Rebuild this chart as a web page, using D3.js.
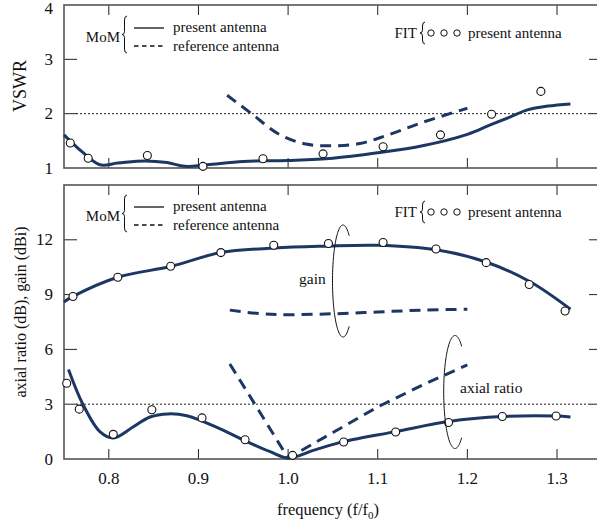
<!DOCTYPE html>
<html>
<head>
<meta charset="utf-8">
<script src="https://cdn.jsdelivr.net/npm/d3@7"></script>
<style>
    body { margin: 0; background: #fff; }
</style>
</head>
<body>
<svg id="chart" width="597" height="525"></svg>
<script>
// ---- data ----
var freqTicks = [0.8, 0.9, 1.0, 1.1, 1.2, 1.3];
var vswrTicks = [1, 2, 3, 4];
var dbTicks = [0, 3, 6, 9, 12];

// VSWR, MoM present antenna
var vswrMomF = [0.75, 0.77, 0.79, 0.81, 0.84, 0.865, 0.885, 0.91, 0.95, 1.0, 1.05, 1.1, 1.15, 1.2, 1.225, 1.248, 1.267, 1.29, 1.315];
var vswrMomV = [1.61, 1.3, 1.06, 1.09, 1.13, 1.1, 1.03, 1.06, 1.12, 1.14, 1.18, 1.28, 1.41, 1.62, 1.79, 1.94, 2.07, 2.14, 2.18];
// VSWR, MoM reference antenna
var vswrRefF = [0.932, 0.96, 0.99, 1.02, 1.05, 1.08, 1.11, 1.15, 1.2];
var vswrRefV = [2.34, 1.99, 1.62, 1.44, 1.41, 1.45, 1.6, 1.84, 2.1];
// VSWR, FIT present antenna
var vswrFitF = [0.757, 0.777, 0.843, 0.905, 0.972, 1.039, 1.106, 1.17, 1.227, 1.282];
var vswrFitV = [1.46, 1.18, 1.23, 1.03, 1.17, 1.26, 1.39, 1.61, 1.99, 2.41];

// gain, MoM present antenna
var gainMomF = [0.75, 0.76, 0.81, 0.87, 0.925, 0.985, 1.04, 1.1, 1.165, 1.22, 1.27, 1.315];
var gainMomV = [8.6, 8.9, 9.95, 10.55, 11.3, 11.55, 11.65, 11.7, 11.45, 10.8, 9.7, 8.2];
// gain, MoM reference antenna
var gainRefF = [0.935, 0.97, 1.0, 1.05, 1.1, 1.15, 1.2];
var gainRefV = [8.15, 7.95, 7.9, 7.95, 8.05, 8.15, 8.2];
// gain, FIT present antenna
var gainFitF = [0.76, 0.81, 0.869, 0.925, 0.984, 1.045, 1.106, 1.165, 1.221, 1.269, 1.309];
var gainFitV = [8.9, 9.95, 10.55, 11.3, 11.7, 11.8, 11.85, 11.5, 10.75, 9.55, 8.1];

// axial ratio, MoM present antenna
var arMomF = [0.755, 0.771, 0.79, 0.805, 0.827, 0.846, 0.866, 0.887, 0.92, 0.954, 0.98, 1.0, 1.03, 1.062, 1.12, 1.179, 1.239, 1.298, 1.315];
var arMomV = [4.9, 3.0, 1.5, 1.15, 1.75, 2.3, 2.47, 2.37, 1.75, 0.95, 0.4, 0.05, 0.5, 0.95, 1.5, 2.05, 2.32, 2.35, 2.3];
// axial ratio, MoM reference antenna
var arRefF = [0.935, 0.968, 1.0, 1.05, 1.1, 1.15, 1.2];
var arRefV = [5.2, 2.6, 0.05, 1.45, 2.85, 4.05, 5.15];
// axial ratio, FIT present antenna
var arFitF = [0.753, 0.767, 0.805, 0.848, 0.904, 0.952, 1.005, 1.062, 1.12, 1.179, 1.239, 1.299];
var arFitV = [4.15, 2.73, 1.35, 2.7, 2.25, 1.05, 0.2, 0.93, 1.48, 2.0, 2.33, 2.35];

// ---- layout ----
var svg = d3.select("#chart");
var navy = "#1c3763";
var ink = "#111";
var serif = "'Liberation Serif', serif";
var left = 64, right = 596;

var x = d3.scaleLinear().domain([0.75, 1.3435]).range([left, right]);
var yTop = d3.scaleLinear().domain([1, 4]).range([168, 5]);
var yBot = d3.scaleLinear().domain([0, 15]).range([459, 185]);

function zip(fs, vs){ return fs.map(function(f, i){ return [f, vs[i]] }) }

// every label goes through here so the serif face sticks
function label(sel, size){
    return sel.style("font-family", serif).attr("font-size", size).attr("fill", ink);
}

function panel(y, ticks){
    var g = svg.append("g");
    var y0 = y.range()[0], y1 = y.range()[1];

    // inner ticks, x at bottom and top
    g.selectAll(".xb").data(freqTicks).enter().append("line")
        .attr("x1", function(d){ return x(d) }).attr("x2", function(d){ return x(d) })
        .attr("y1", y0).attr("y2", y0 - 10)
        .attr("stroke", "#222").attr("stroke-width", 1);
    g.selectAll(".xt").data(freqTicks).enter().append("line")
        .attr("x1", function(d){ return x(d) }).attr("x2", function(d){ return x(d) })
        .attr("y1", y1).attr("y2", y1 + 10)
        .attr("stroke", "#222").attr("stroke-width", 1);

    // y ticks left and right, plus labels
    var inner = ticks.filter(function(d){ return y(d) > y1 + 1 && y(d) < y0 - 1 });
    g.selectAll(".yl").data(inner).enter().append("line")
        .attr("x1", left).attr("x2", left + 13)
        .attr("y1", function(d){ return y(d) }).attr("y2", function(d){ return y(d) })
        .attr("stroke", "#222").attr("stroke-width", 1);
    g.selectAll(".yr").data(inner).enter().append("line")
        .attr("x1", 589).attr("x2", 597)
        .attr("y1", function(d){ return y(d) }).attr("y2", function(d){ return y(d) })
        .attr("stroke", "#222").attr("stroke-width", 1);
    label(g.selectAll(".ylab").data(ticks).enter().append("text"), 17)
        .attr("x", 53).attr("y", function(d){ return Math.max(y(d) + 5.5, 13.5) })
        .attr("text-anchor", "end")
        .text(function(d){ return d });

    // frame
    g.append("rect")
        .attr("x", left).attr("y", y1)
        .attr("width", 560).attr("height", y0 - y1)
        .attr("fill", "none").attr("stroke", "#555").attr("stroke-width", 1.6);
    return g;
}

panel(yTop, vswrTicks);
panel(yBot, dbTicks);

// dotted limits
svg.append("line").attr("x1", 76).attr("x2", 589)
    .attr("y1", yTop(2)).attr("y2", yTop(2))
    .attr("stroke", "#222").attr("stroke-width", 1).attr("stroke-dasharray", "2,2");
svg.append("line").attr("x1", 76).attr("x2", 589)
    .attr("y1", yBot(3)).attr("y2", yBot(3))
    .attr("stroke", "#222").attr("stroke-width", 1).attr("stroke-dasharray", "2,2");

// curves
function curve(y, fs, vs, dashed, shape){
    var line = d3.line()
        .x(function(d){ return x(d[0]) })
        .y(function(d){ return y(d[1]) })
        .curve(shape || d3.curveCatmullRom.alpha(0.5));
    svg.append("path")
        .datum(zip(fs, vs))
        .attr("d", line)
        .attr("fill", "none")
        .attr("stroke", navy)
        .attr("stroke-width", 3)
        .attr("stroke-dasharray", dashed ? "11,7" : null);
}
function dots(y, fs, vs){
    svg.append("g").selectAll("circle")
        .data(zip(fs, vs)).enter().append("circle")
        .attr("cx", function(d){ return x(d[0]) })
        .attr("cy", function(d){ return y(d[1]) })
        .attr("r", 4)
        .attr("fill", "#fff").attr("stroke", ink).attr("stroke-width", 1.1);
}

curve(yTop, vswrMomF, vswrMomV, false);
curve(yTop, vswrRefF, vswrRefV, true);
dots(yTop, vswrFitF, vswrFitV);

curve(yBot, gainMomF, gainMomV, false);
curve(yBot, gainRefF, gainRefV, true);
curve(yBot, arMomF, arMomV, false);
curve(yBot, arRefF, arRefV, true, d3.curveLinear);
dots(yBot, gainFitF, gainFitV);
dots(yBot, arFitF, arFitV);

// open loops round the curves
function loop(cx, cy, rx, ry){
    var pts = d3.range(0.3 * Math.PI, 1.701 * Math.PI, 0.05).map(function(t){
        return [cx + rx * Math.cos(t), cy + ry * Math.sin(t)] });
    svg.append("path").attr("d", d3.line()(pts))
        .attr("fill", "none").attr("stroke", ink).attr("stroke-width", 1);
}
loop(343, 281, 10.5, 56);
loop(455, 392, 11.3, 56.5);

label(svg.append("text"), 15.5).attr("x", 299).attr("y", 284).text("gain");
label(svg.append("text"), 15.5).attr("x", 460).attr("y", 393).text("axial ratio");

// legends
function brace(bx, by0, by1){
    var m = (by0 + by1) / 2, w = 5, c = bx + w / 2;
    var p = d3.path();
    p.moveTo(bx + w, by0);
    p.quadraticCurveTo(c, by0, c, by0 + 4);
    p.lineTo(c, m - 3);
    p.quadraticCurveTo(c, m, bx, m);
    p.quadraticCurveTo(c, m, c, m + 3);
    p.lineTo(c, by1 - 4);
    p.quadraticCurveTo(c, by1, bx + w, by1);
    svg.append("path").attr("d", p.toString())
        .attr("fill", "none").attr("stroke", ink).attr("stroke-width", 1);
}
function legend(top){
    var ls = top + 12, ld = top + 30;
    label(svg.append("text"), 15).attr("x", 120).attr("y", (ls + ld) / 2 + 5)
        .attr("text-anchor", "end").text("MoM");
    brace(122, ls - 12, ld + 7);
    svg.append("line").attr("x1", 134).attr("x2", 164).attr("y1", ls).attr("y2", ls)
        .attr("stroke", ink).attr("stroke-width", 1.3);
    svg.append("line").attr("x1", 134).attr("x2", 164).attr("y1", ld).attr("y2", ld)
        .attr("stroke", ink).attr("stroke-width", 1.3).attr("stroke-dasharray", "4.5,3.5");
    label(svg.append("text"), 15).attr("x", 173).attr("y", ls + 4).text("present antenna");
    label(svg.append("text"), 15).attr("x", 173).attr("y", ld + 5).text("reference antenna");

    var fy = top + 17;
    label(svg.append("text"), 15).attr("x", 417).attr("y", fy + 5)
        .attr("text-anchor", "end").text("FIT");
    brace(420, fy - 11, fy + 11);
    svg.append("g").selectAll("circle").data([431, 444, 457]).enter().append("circle")
        .attr("cx", function(d){ return d }).attr("cy", fy).attr("r", 3.2)
        .attr("fill", "#fff").attr("stroke", ink).attr("stroke-width", 1);
    label(svg.append("text"), 15).attr("x", 468).attr("y", fy + 5).text("present antenna");
}
legend(16);
legend(195);

// x tick labels and axis titles
label(svg.append("g").selectAll("text").data(freqTicks).enter().append("text"), 17)
    .attr("x", function(d){ return x(d) }).attr("y", 484)
    .attr("text-anchor", "middle")
    .text(function(d){ return d.toFixed(1) });

var xt = label(svg.append("text"), 16.5).attr("x", 328).attr("y", 515)
    .attr("text-anchor", "middle");
xt.append("tspan").text("frequency (f/f");
xt.append("tspan").attr("font-size", 11).attr("dy", 4).text("0");
xt.append("tspan").attr("dy", -4).text(")");

label(svg.append("text"), 18).attr("transform", "translate(26,86) rotate(-90)")
    .attr("text-anchor", "middle").text("VSWR");
label(svg.append("text"), 16).attr("transform", "translate(26,312) rotate(-90)")
    .attr("text-anchor", "middle").text("axial ratio (dB), gain (dBi)");
</script>
</body>
</html>
